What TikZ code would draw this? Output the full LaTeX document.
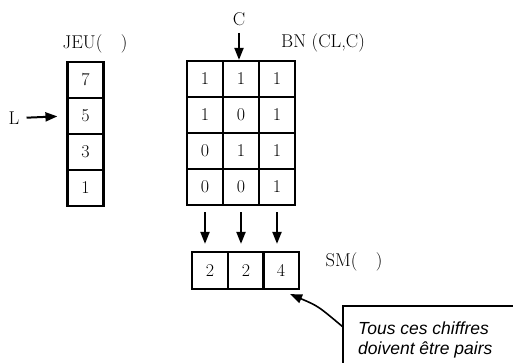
\documentclass[tikz,border=0pt]{standalone}
\usepackage{fontspec}
\newfontfamily\calloutfont{Liberation Sans}
\usetikzlibrary{arrows.meta}
\begin{document}
\begin{tikzpicture}[x=1pt,y=-1pt,
  cell/.style={draw,line width=2.2pt,minimum width=36pt,minimum height=36pt,inner sep=0pt,font=\fontsize{18}{21}\selectfont},
  lbl/.style={inner sep=0pt,font=\fontsize{18.5}{21}\selectfont},
  arr/.style={line width=2pt,-{Triangle[length=12pt,width=9pt]}},
  note/.style={inner sep=0pt,anchor=west,font=\calloutfont\itshape\fontsize{17.5}{20}\selectfont}]
\useasboundingbox (0,0) rectangle (513,363);
% JEU column
\node[cell] (j1) at (85.5,80) {7};
\node[cell] (j2) at (85.5,116) {5};
\node[cell] (j3) at (85.5,152) {3};
\node[cell] (j4) at (85.5,188) {1};
\node[lbl] (jeu) at (95,44) {JEU(\quad)};
\node[lbl] (L) at (14,118) {L};
\draw[arr,shorten <=7pt,shorten >=9pt] (L.east) -- (j2.west);
% BN grid
\node[cell] (b11) at (205,79) {1};
\node[cell] (b12) at (241,79) {1};
\node[cell] (b13) at (277,79) {1};
\node[cell] (b21) at (205,115) {1};
\node[cell] (b22) at (241,115) {0};
\node[cell] (b23) at (277,115) {1};
\node[cell] (b31) at (205,151) {0};
\node[cell] (b32) at (241,151) {1};
\node[cell] (b33) at (277,151) {1};
\node[cell] (b41) at (205,187) {0};
\node[cell] (b42) at (241,187) {0};
\node[cell] (b43) at (277,187) {1};
\node[lbl] (bn) at (323,43) {BN (CL,C)};
\node[lbl] (C) at (239,19) {C};
\draw[arr,shorten <=7pt] (C.south) -- (C.south |- b12.north);
% SM row
\node[cell,minimum height=37pt] (s1) at (210,270.5) {2};
\node[cell,minimum height=37pt] (s2) at (246,270.5) {2};
\node[cell,minimum height=37pt] (s3) at (281,270.5) {4};
\node[lbl] (sm) at (354,262) {SM(\quad)};
\draw[arr,shorten <=6pt,shorten >=7pt] (b41.south) -- (b41.south |- s1.north);
\draw[arr,shorten <=6pt,shorten >=7pt] (b42.south) -- (b42.south |- s2.north);
\draw[arr,shorten <=6pt,shorten >=7pt] (b43.south) -- (b43.south |- s3.north);
% callout
\coordinate (bx1) at (343,400);
\coordinate (bx2) at (343,306);
\coordinate (bx3) at (520,306);
\coordinate (bxa) at (343,327);
\coordinate (tip) at ([shift={(-10pt,-4pt)}]s3.south east);
\draw[line width=1.5pt] (bx1) -- (bx2) -- (bx3);
\draw[line width=1.6pt,-{Triangle[length=12pt,width=9pt]}] (bxa) .. controls (318,306) .. (tip);
\node[note] (t1) at (358,328) {Tous ces chiffres};
\node[note] (t2) at (358,350) {doivent être pairs};
\end{tikzpicture}
\end{document}
